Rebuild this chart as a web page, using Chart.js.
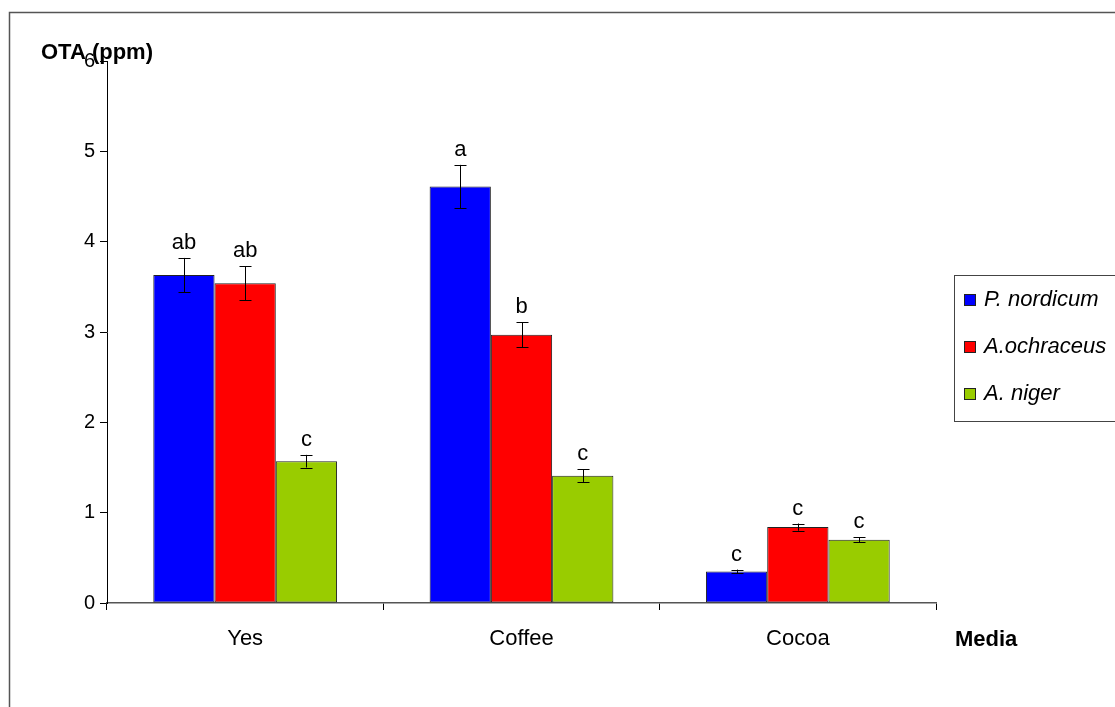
<!DOCTYPE html>
<html>
<head>
<meta charset="utf-8">
<script src="https://cdn.jsdelivr.net/npm/chart.js@4.4.0/dist/chart.umd.min.js"></script>
<style>
  html, body { margin: 0; padding: 0; background: #fff; }
  #wrap { width: 1115px; height: 707px; position: relative; }
</style>
</head>
<body>
<div id="wrap"><canvas id="chart" width="1115" height="707"></canvas></div>
<script>
// chart data
const categories = ['Yes', 'Coffee', 'Cocoa'];
const seriesNames = ['P. nordicum', 'A.ochraceus', 'A. niger'];
const nordicum = [3.63, 4.61, 0.35];
const ochraceus = [3.54, 2.97, 0.84];
const niger = [1.57, 1.41, 0.70];
const nordicumErr = [0.19, 0.24, 0.02];
const ochraceusErr = [0.19, 0.14, 0.04];
const nigerErr = [0.07, 0.07, 0.03];
const nordicumLetters = ['ab', 'a', 'c'];
const ochraceusLetters = ['ab', 'b', 'c'];
const nigerLetters = ['c', 'c', 'c'];
const yTicks = [0, 1, 2, 3, 4, 5, 6];

const colors = ['#0000FF', '#FF0000', '#99CC00'];
const FONT = '"Liberation Sans", Arial, sans-serif';

function makeSet(i, values, errs, letters) {
    return {
        label: seriesNames[i],
        data: values,
        errors: errs,
        letters: letters,
        backgroundColor: colors[i],
        borderColor: '#222',
        borderWidth: 1,
        borderSkipped: false,
        barPercentage: 1.0,
        categoryPercentage: 0.665
    };
}

// error bars + letters
const errorBars = {
    id: 'errorBars',
    afterDatasetsDraw(chart) {
        const ctx = chart.ctx;
        const y = chart.scales.y;
        ctx.save();
        chart.data.datasets.forEach((ds, di) => {
            const meta = chart.getDatasetMeta(di);
            meta.data.forEach((bar, i) => {
                const v = ds.data[i], e = ds.errors[i];
                const top = y.getPixelForValue(v + e);
                const bot = y.getPixelForValue(v - e);
                const x = Math.round(bar.x) + 0.5;
                ctx.strokeStyle = '#000';
                ctx.lineWidth = 1;
                ctx.beginPath();
                ctx.moveTo(x, top); ctx.lineTo(x, bot);
                ctx.moveTo(x - 6, Math.round(top) + 0.5); ctx.lineTo(x + 6, Math.round(top) + 0.5);
                ctx.moveTo(x - 6, Math.round(bot) + 0.5); ctx.lineTo(x + 6, Math.round(bot) + 0.5);
                ctx.stroke();
                ctx.fillStyle = '#000';
                ctx.font = '22px ' + FONT;
                ctx.textAlign = 'center';
                ctx.textBaseline = 'alphabetic';
                ctx.fillText(ds.letters[i], bar.x, top - 9);
            });
        });
        ctx.restore();
    }
};

// frame, axis titles, legend
const decor = {
    id: 'decor',
    afterDraw(chart) {
        const ctx = chart.ctx;
        ctx.save();
        ctx.strokeStyle = '#555';
        ctx.lineWidth = 1.5;
        ctx.beginPath();
        ctx.moveTo(9.5, 720); ctx.lineTo(9.5, 12.5); ctx.lineTo(1130, 12.5);
        ctx.stroke();

        ctx.fillStyle = '#000';
        ctx.font = 'bold 22px ' + FONT;
        ctx.textAlign = 'left';
        ctx.textBaseline = 'middle';
        ctx.fillText('OTA (ppm)', 41, 53);
        ctx.fillText('Media', 955, 640);

        // legend box
        ctx.strokeStyle = '#444';
        ctx.lineWidth = 1;
        ctx.strokeRect(954.5, 275.5, 200, 146);
        const rows = [300, 347, 394];
        chart.data.datasets.forEach((ds, i) => {
            ctx.fillStyle = ds.backgroundColor;
            ctx.fillRect(965, rows[i] - 5, 10, 10);
            ctx.strokeStyle = '#222';
            ctx.strokeRect(964.5, rows[i] - 5.5, 11, 11);
            ctx.fillStyle = '#000';
            ctx.font = 'italic 22px ' + FONT;
            ctx.textBaseline = 'middle';
            ctx.fillText(ds.label, 984, rows[i]);
        });
        ctx.restore();
    }
};

new Chart(document.getElementById('chart').getContext('2d'), {
    type: 'bar',
    data: {
        labels: categories,
        datasets: [
            makeSet(0, nordicum, nordicumErr, nordicumLetters),
            makeSet(1, ochraceus, ochraceusErr, ochraceusLetters),
            makeSet(2, niger, nigerErr, nigerLetters)
        ]
    },
    options: {
        responsive: false,
        animation: false,
        devicePixelRatio: 1,
        layout: { padding: { left: 0, top: 61, right: 179, bottom: 0 } },
        plugins: { legend: { display: false }, tooltip: { enabled: false } },
        scales: {
            x: {
                offset: true,
                grid: { offset: true, drawOnChartArea: false, drawTicks: true, tickLength: 7, color: '#000' },
                border: { display: true, color: '#555', width: 1.5 },
                ticks: { color: '#000', font: { family: FONT, size: 22 }, padding: 16 },
                afterFit: s => { s.height = 104; }
            },
            y: {
                min: 0,
                max: 6,
                afterBuildTicks: s => { s.ticks = yTicks.map(v => ({ value: v })); },
                grid: { drawOnChartArea: false, drawTicks: true, tickLength: 7, color: '#000' },
                border: { display: true, color: '#000', width: 1 },
                ticks: { color: '#000', font: { family: FONT, size: 20 }, padding: 5 },
                afterFit: s => { s.width = 107; }
            }
        }
    },
    plugins: [errorBars, decor]
});
</script>
</body>
</html>
